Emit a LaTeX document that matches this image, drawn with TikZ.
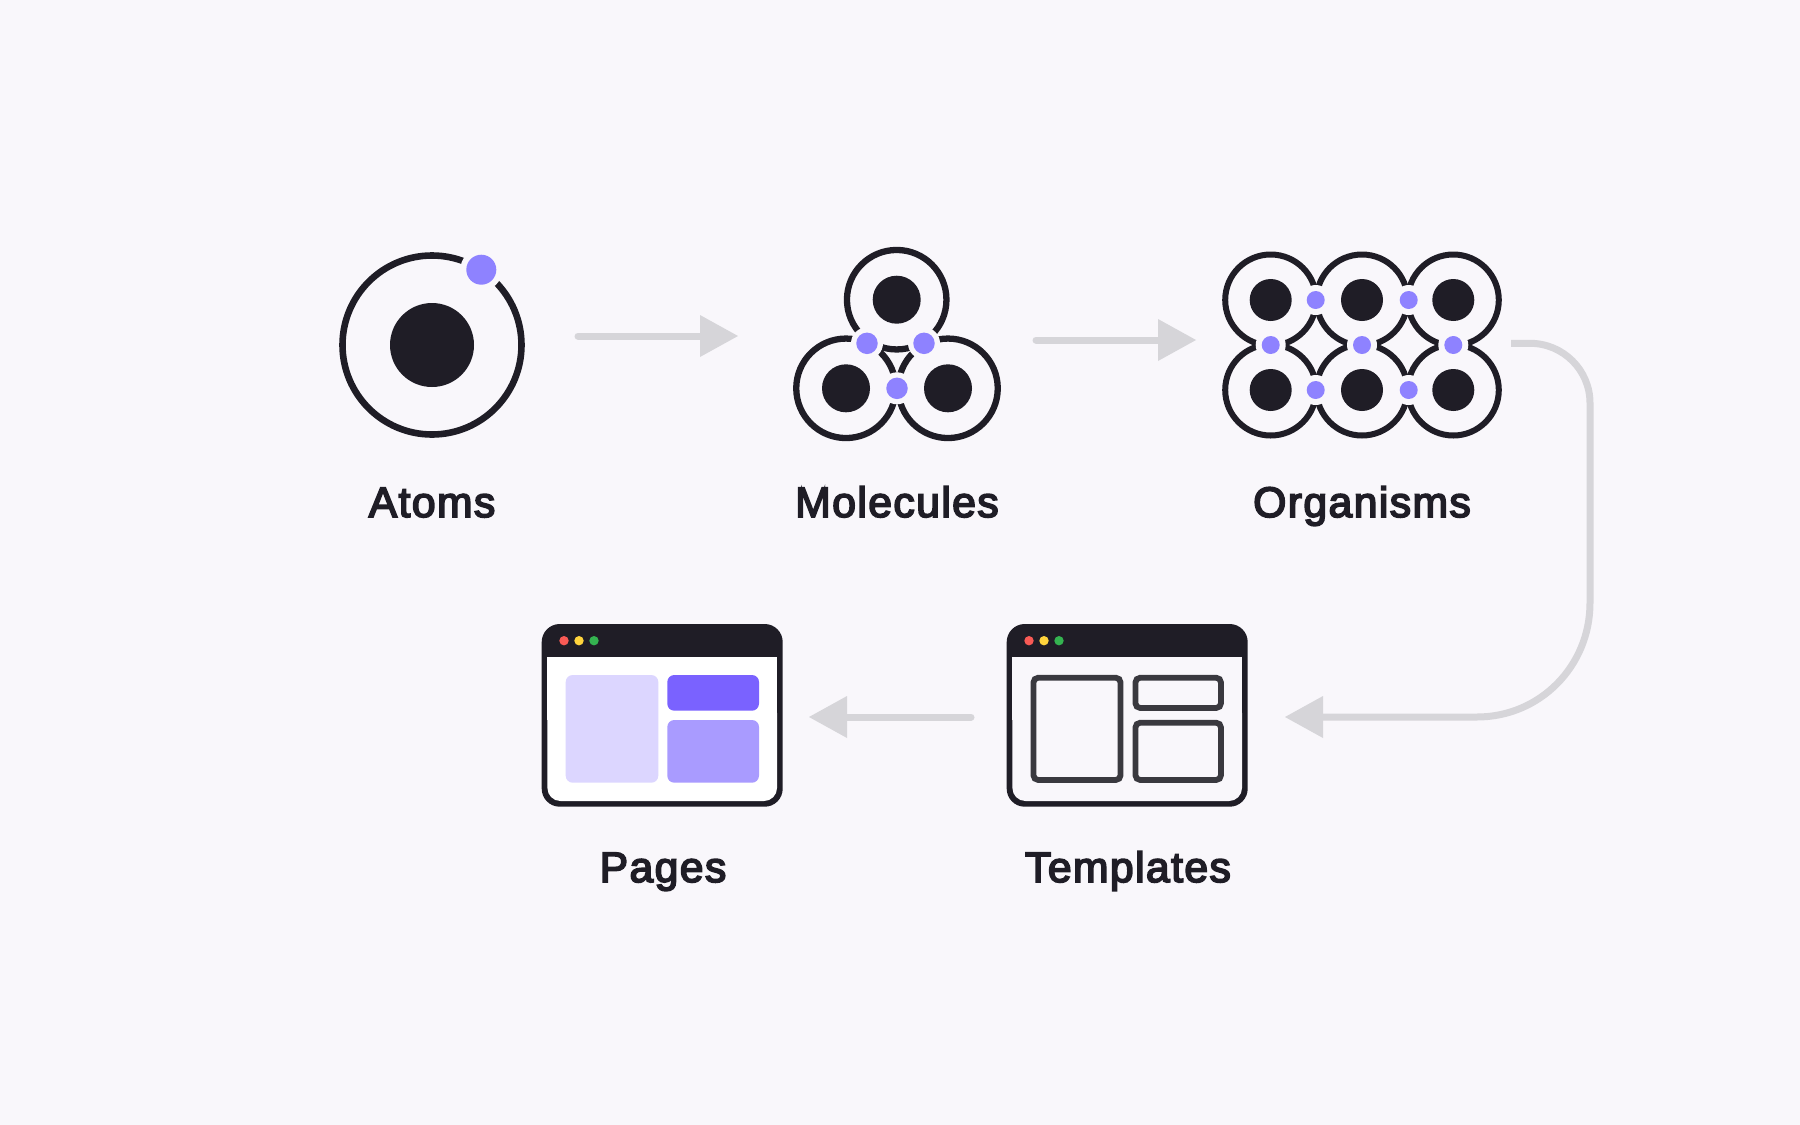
\documentclass[tikz,border=0pt]{standalone}
\usepackage{fontspec}
\setmainfont{Liberation Sans}
\newfontfamily\labelfont[LetterSpace=3.4,FakeBold=4]{Liberation Sans}
\usetikzlibrary{arrows.meta}
\definecolor{bgc}{HTML}{F9F7FB}
\definecolor{ink}{HTML}{1F1D26}
\definecolor{pur}{HTML}{8E82FF}
\definecolor{arrowc}{HTML}{D6D5D9}
\definecolor{boxline}{HTML}{3A393F}
\definecolor{lav}{HTML}{DCD6FF}
\definecolor{vio}{HTML}{7A62FF}
\definecolor{mid}{HTML}{A99BFF}
\definecolor{wred}{HTML}{F95A55}
\definecolor{wyel}{HTML}{FFD43C}
\definecolor{wgrn}{HTML}{34B350}
\tikzset{
  dotshape/.style={circle,inner sep=0pt,outer sep=0pt,minimum size=#1},
  nucleus/.style={dotshape=#1,fill=ink},
  ringc/.style={dotshape=#1,draw=ink,fill=none},
  halo/.style={dotshape=#1,fill=bgc},
  elec/.style={dotshape=#1,fill=pur},
  label/.style={anchor=base,text=ink,font=\labelfont\fontsize{42.6}{50}\selectfont,inner sep=0pt},
  flow/.style={draw=arrowc,line width=7pt,fill=none,line cap=round,-{Triangle[length=38pt,width=42pt,fill=arrowc,line width=0pt]}},
  tl/.style={dotshape=9.4pt},
  inbox/.style={draw=boxline,line width=5.8pt,rounded corners=4.5pt},
  pagebox/.style={rounded corners=7pt},
}
\newcommand{\winframe}[3]{%
  \fill[ink,rounded corners=18pt] (#1,624) rectangle (#1+241,806.7);
  \fill[#2,rounded corners=13pt] (#1+5.7,700) -- (#1+5.7,801) -- (#1+235.3,801) -- (#1+235.3,700) -- cycle;
  \fill[#2] (#1+5.7,656.7) rectangle (#1+235.3,720);
  \node[tl,fill=wred] (#3r) at (#1+22.3,640.7) {};
  \node[tl,fill=wyel] (#3y) at (#1+37.3,640.7) {};
  \node[tl,fill=wgrn] (#3g) at (#1+52.3,640.7) {};
}
\begin{document}
\begin{tikzpicture}[x=1pt,y=-1pt]
\fill[bgc] (0,0) rectangle (1800,1125);
\useasboundingbox (0,0) rectangle (1800,1125);

% Atoms
\node[ringc=179pt,line width=6.6pt] (aring) at (432,345) {};
\node[nucleus=84pt] (anuc) at (432,345) {};
\node[halo=42pt] (ahalo) at (481.3,269.7) {};
\node[elec=30pt] (ael) at (481.3,269.7) {};
\node[label] (atoms) at (432,517) {Atoms};

% Molecules
\foreach \n/\x/\y in {mt/896.7/299.7,ml/846/388.3,mr/948/388.3}{
  \node[ringc=99.5pt,line width=6.3pt] (\n ring) at (\x,\y) {};
  \node[nucleus=48pt] (\n nuc) at (\x,\y) {};
}
\foreach \n/\x/\y in {me1/867/343.3,me2/924/343.3,me3/897/388.3}{
  \node[halo=32pt] (\n h) at (\x,\y) {};
  \node[elec=21.5pt] (\n) at (\x,\y) {};
}
\node[label] (molecules) at (897,517) {Molecules};

% Organisms
\foreach \n/\x/\y in {o1/1270.7/300,o2/1362/300,o3/1453.3/300,o4/1270.7/390,o5/1362/390,o6/1453.3/390}{
  \node[ringc=91pt,line width=6pt] (\n ring) at (\x,\y) {};
  \node[nucleus=42pt] (\n nuc) at (\x,\y) {};
}
\foreach \n/\x/\y in {e1/1315.7/300,e2/1408.7/300,e3/1270.7/345,e4/1362/345,e5/1453.3/345,e6/1315.7/390,e7/1408.7/390}{
  \node[halo=30pt] (\n h) at (\x,\y) {};
  \node[elec=18pt] (\n) at (\x,\y) {};
}
\node[label] (organisms) at (1362,517) {Organisms};

% Templates
\winframe{1006.7}{bgc}{t}
\draw[inbox] (1033.5,677.8) rectangle (1120.5,779.9);
\draw[inbox] (1135.5,677.8) rectangle (1220.9,707.9);
\draw[inbox] (1135.5,722.8) rectangle (1220.9,779.9);
\node[label] (templates) at (1128,882) {Templates};

% Pages
\winframe{541.7}{white}{p}
\fill[lav,pagebox] (565.7,675) rectangle (658.3,782.7);
\fill[vio,pagebox] (667.3,675) rectangle (759,710.7);
\fill[mid,pagebox] (667.3,720) rectangle (759,782.7);
\node[label] (pages) at (663,882) {Pages};

% Connectors
\coordinate (f1s) at (578,336);
\coordinate (f1e) at (738,336);
\coordinate (f2s) at (1036,340);
\coordinate (f2e) at (1196,340);
\coordinate (f3s) at (1511,343.3);
\coordinate (f3e) at (1285,717);
\coordinate (f4s) at (971,717);
\coordinate (f4e) at (809,717);
\draw[flow] (f1s) -- (f1e);
\draw[flow] (f2s) -- (f2e);
\draw[flow,line cap=butt] (f3s) -- (1530,343.3)
  .. controls (1563,343.3) and (1590,370) .. (1590,403)
  -- (1590,603)
  .. controls (1590,666) and (1540,717) .. (1477,717)
  -- (f3e);
\draw[flow] (f4s) -- (f4e);
\end{tikzpicture}
\end{document}
